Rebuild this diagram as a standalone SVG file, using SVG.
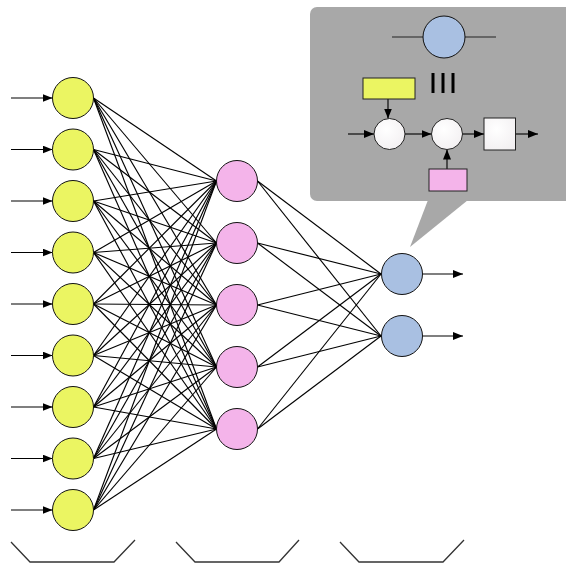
<svg xmlns="http://www.w3.org/2000/svg" width="566" height="565" viewBox="0 0 566 565">
<style>
.in{fill:#ebf562;stroke:#111;stroke-width:1}
.hid{fill:#f4b4ea;stroke:#111;stroke-width:1}
.out{fill:#a9c0e2;stroke:#111;stroke-width:1}
.c line{stroke:#000;stroke-width:1.15}
.arr{stroke:#222;stroke-width:1.4;marker-end:url(#ah)}
.br{fill:none;stroke:#333;stroke-width:1.3}
.wc{fill:url(#wg);stroke:#222;stroke-width:1}
</style>
<defs>
<marker id="ah" markerUnits="userSpaceOnUse" markerWidth="11" markerHeight="9" refX="10" refY="4" orient="auto">
<path d="M0,0 L10,4 L0,8 z" fill="#000"/>
</marker>
<radialGradient id="wg" cx="0.4" cy="0.35" r="0.75">
<stop offset="0" stop-color="#ffffff"/>
<stop offset="1" stop-color="#f2eff1"/>
</radialGradient>
</defs>
<rect width="566" height="565" fill="#fff"/>

<g id="callout">
<rect x="310" y="7" width="270" height="194" rx="7" fill="#a8a8a8"/>
<polygon points="428,200 468,200 410,247" fill="#a8a8a8"/>
<line x1="392" y1="37" x2="496" y2="37" stroke="#222" stroke-width="1.2"/>
<circle cx="444" cy="37" r="21" class="out"/>
<line x1="433" y1="73" x2="433" y2="93" stroke="#000" stroke-width="3"/>
<line x1="443" y1="73" x2="443" y2="93" stroke="#000" stroke-width="3"/>
<line x1="453" y1="73" x2="453" y2="93" stroke="#000" stroke-width="3"/>
<rect x="363" y="78" width="52" height="21" fill="#ebf562" stroke="#222"/>
<rect x="429" y="169" width="38" height="22" fill="#f4b4ea" stroke="#222"/>
<rect x="484" y="118" width="31.5" height="32" fill="url(#wg)" stroke="#222"/>
<line class="arr" x1="348" y1="134" x2="374" y2="134"/>
<line class="arr" x1="405" y1="134" x2="431.5" y2="134"/>
<line class="arr" x1="462.5" y1="134" x2="484" y2="134"/>
<line class="arr" x1="515.5" y1="134" x2="538" y2="134"/>
<line class="arr" x1="388" y1="99" x2="388" y2="118.5"/>
<line class="arr" x1="447" y1="169" x2="447" y2="149.5"/>
<circle class="wc" cx="389.5" cy="134" r="15.5"/>
<circle class="wc" cx="447" cy="134" r="15.5"/>
</g>

<g id="connectors" class="c">
<line x1="93.5" y1="98" x2="216.5" y2="181"/><line x1="93.5" y1="98" x2="216.5" y2="243"/><line x1="93.5" y1="98" x2="216.5" y2="305"/><line x1="93.5" y1="98" x2="216.5" y2="367"/><line x1="93.5" y1="98" x2="216.5" y2="429"/>
<line x1="93.5" y1="149.5" x2="216.5" y2="181"/><line x1="93.5" y1="149.5" x2="216.5" y2="243"/><line x1="93.5" y1="149.5" x2="216.5" y2="305"/><line x1="93.5" y1="149.5" x2="216.5" y2="367"/><line x1="93.5" y1="149.5" x2="216.5" y2="429"/>
<line x1="93.5" y1="201" x2="216.5" y2="181"/><line x1="93.5" y1="201" x2="216.5" y2="243"/><line x1="93.5" y1="201" x2="216.5" y2="305"/><line x1="93.5" y1="201" x2="216.5" y2="367"/><line x1="93.5" y1="201" x2="216.5" y2="429"/>
<line x1="93.5" y1="252.5" x2="216.5" y2="181"/><line x1="93.5" y1="252.5" x2="216.5" y2="243"/><line x1="93.5" y1="252.5" x2="216.5" y2="305"/><line x1="93.5" y1="252.5" x2="216.5" y2="367"/><line x1="93.5" y1="252.5" x2="216.5" y2="429"/>
<line x1="93.5" y1="304" x2="216.5" y2="181"/><line x1="93.5" y1="304" x2="216.5" y2="243"/><line x1="93.5" y1="304" x2="216.5" y2="305"/><line x1="93.5" y1="304" x2="216.5" y2="367"/><line x1="93.5" y1="304" x2="216.5" y2="429"/>
<line x1="93.5" y1="355.5" x2="216.5" y2="181"/><line x1="93.5" y1="355.5" x2="216.5" y2="243"/><line x1="93.5" y1="355.5" x2="216.5" y2="305"/><line x1="93.5" y1="355.5" x2="216.5" y2="367"/><line x1="93.5" y1="355.5" x2="216.5" y2="429"/>
<line x1="93.5" y1="407" x2="216.5" y2="181"/><line x1="93.5" y1="407" x2="216.5" y2="243"/><line x1="93.5" y1="407" x2="216.5" y2="305"/><line x1="93.5" y1="407" x2="216.5" y2="367"/><line x1="93.5" y1="407" x2="216.5" y2="429"/>
<line x1="93.5" y1="458.5" x2="216.5" y2="181"/><line x1="93.5" y1="458.5" x2="216.5" y2="243"/><line x1="93.5" y1="458.5" x2="216.5" y2="305"/><line x1="93.5" y1="458.5" x2="216.5" y2="367"/><line x1="93.5" y1="458.5" x2="216.5" y2="429"/>
<line x1="93.5" y1="510" x2="216.5" y2="181"/><line x1="93.5" y1="510" x2="216.5" y2="243"/><line x1="93.5" y1="510" x2="216.5" y2="305"/><line x1="93.5" y1="510" x2="216.5" y2="367"/><line x1="93.5" y1="510" x2="216.5" y2="429"/>
<line x1="257.5" y1="181" x2="381" y2="274"/><line x1="257.5" y1="181" x2="381" y2="336"/>
<line x1="257.5" y1="243" x2="381" y2="274"/><line x1="257.5" y1="243" x2="381" y2="336"/>
<line x1="257.5" y1="305" x2="381" y2="274"/><line x1="257.5" y1="305" x2="381" y2="336"/>
<line x1="257.5" y1="367" x2="381" y2="274"/><line x1="257.5" y1="367" x2="381" y2="336"/>
<line x1="257.5" y1="429" x2="381" y2="274"/><line x1="257.5" y1="429" x2="381" y2="336"/>
<line class="arr" x1="11" y1="98" x2="52.5" y2="98"/>
<line class="arr" x1="11" y1="149.5" x2="52.5" y2="149.5"/>
<line class="arr" x1="11" y1="201" x2="52.5" y2="201"/>
<line class="arr" x1="11" y1="252.5" x2="52.5" y2="252.5"/>
<line class="arr" x1="11" y1="304" x2="52.5" y2="304"/>
<line class="arr" x1="11" y1="355.5" x2="52.5" y2="355.5"/>
<line class="arr" x1="11" y1="407" x2="52.5" y2="407"/>
<line class="arr" x1="11" y1="458.5" x2="52.5" y2="458.5"/>
<line class="arr" x1="11" y1="510" x2="52.5" y2="510"/>
<line class="arr" x1="423" y1="274" x2="463" y2="274"/>
<line class="arr" x1="423" y1="336" x2="463" y2="336"/>
</g>

<g id="input-nodes">
<circle id="in1" class="in" cx="73" cy="98" r="20.5"/>
<circle id="in2" class="in" cx="73" cy="149.5" r="20.5"/>
<circle id="in3" class="in" cx="73" cy="201" r="20.5"/>
<circle id="in4" class="in" cx="73" cy="252.5" r="20.5"/>
<circle id="in5" class="in" cx="73" cy="304" r="20.5"/>
<circle id="in6" class="in" cx="73" cy="355.5" r="20.5"/>
<circle id="in7" class="in" cx="73" cy="407" r="20.5"/>
<circle id="in8" class="in" cx="73" cy="458.5" r="20.5"/>
<circle id="in9" class="in" cx="73" cy="510" r="20.5"/>
</g>
<g id="hidden-nodes">
<circle id="h1" class="hid" cx="237" cy="181" r="20.5"/>
<circle id="h2" class="hid" cx="237" cy="243" r="20.5"/>
<circle id="h3" class="hid" cx="237" cy="305" r="20.5"/>
<circle id="h4" class="hid" cx="237" cy="367" r="20.5"/>
<circle id="h5" class="hid" cx="237" cy="429" r="20.5"/>
</g>
<g id="output-nodes">
<circle id="o1" class="out" cx="402" cy="274" r="20.5"/>
<circle id="o2" class="out" cx="402" cy="336" r="20.5"/>
</g>

<g id="brackets">
<polyline class="br" points="11,542 30,562 114,562 135,540"/>
<polyline class="br" points="176,542 195,562 279,562 299,540"/>
<polyline class="br" points="340,542 359,562 443,562 464,540"/>
</g>
</svg>
